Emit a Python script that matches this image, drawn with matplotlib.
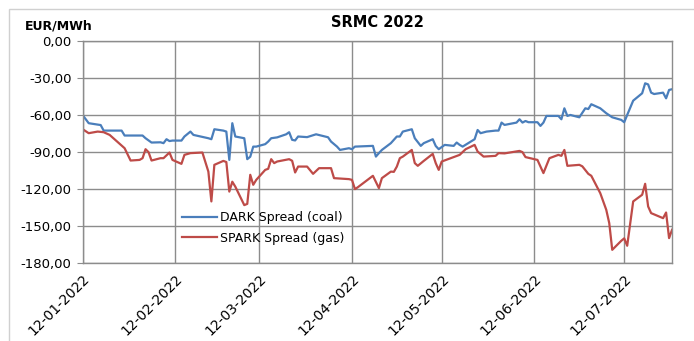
import matplotlib
matplotlib.use('Agg')
import matplotlib.pyplot as plt
import matplotlib.dates as mdates
from matplotlib.patches import Rectangle
import pandas as pd

plt.rcParams['axes.unicode_minus'] = False

dark_dates = ['2022-01-12', '2022-01-14', '2022-01-18', '2022-01-19', '2022-01-25', '2022-01-26',
              '2022-02-01', '2022-02-02', '2022-02-04', '2022-02-07', '2022-02-08', '2022-02-09',
              '2022-02-10', '2022-02-11', '2022-02-14', '2022-02-15', '2022-02-17', '2022-02-18',
              '2022-02-23', '2022-02-24', '2022-02-25', '2022-02-28', '2022-03-01', '2022-03-02',
              '2022-03-03', '2022-03-04', '2022-03-07', '2022-03-08', '2022-03-09', '2022-03-10',
              '2022-03-11', '2022-03-14', '2022-03-15', '2022-03-16', '2022-03-18', '2022-03-21',
              '2022-03-22', '2022-03-23', '2022-03-24', '2022-03-25', '2022-03-28', '2022-03-31',
              '2022-04-04', '2022-04-05', '2022-04-07', '2022-04-08', '2022-04-11', '2022-04-12',
              '2022-04-13', '2022-04-19', '2022-04-20', '2022-04-21', '2022-04-22', '2022-04-25',
              '2022-04-27', '2022-04-28', '2022-04-29', '2022-05-02', '2022-05-03', '2022-05-05',
              '2022-05-06', '2022-05-09', '2022-05-10', '2022-05-11', '2022-05-13', '2022-05-16',
              '2022-05-17', '2022-05-18', '2022-05-19', '2022-05-23', '2022-05-24', '2022-05-25',
              '2022-05-27', '2022-05-30', '2022-05-31', '2022-06-01', '2022-06-02', '2022-06-06',
              '2022-06-07', '2022-06-08', '2022-06-09', '2022-06-10', '2022-06-13', '2022-06-14',
              '2022-06-15', '2022-06-16', '2022-06-20', '2022-06-21', '2022-06-22', '2022-06-23',
              '2022-06-24', '2022-06-27', '2022-06-29', '2022-06-30', '2022-07-01', '2022-07-04',
              '2022-07-06', '2022-07-08', '2022-07-11', '2022-07-12', '2022-07-13', '2022-07-15',
              '2022-07-18', '2022-07-19', '2022-07-20', '2022-07-21', '2022-07-22', '2022-07-25',
              '2022-07-26', '2022-07-27', '2022-07-28']
dark_values = [-60.0, -66.5, -68.0, -72.5, -72.5, -76.5,
               -76.5, -78.7, -82.2, -82.0, -82.7, -79.5,
               -81.0, -80.6, -80.6, -77.3, -73.3, -76.0,
               -78.7, -79.5, -71.4, -72.5, -73.3, -96.3,
               -66.5, -77.3, -78.7, -95.7, -93.7, -85.5,
               -85.5, -83.5, -81.4, -78.7, -78.0, -75.5,
               -73.8, -80.0, -80.5, -77.3, -77.8, -75.5,
               -77.9, -81.4, -85.5, -88.2, -86.8, -87.6,
               -85.5, -84.9, -93.6, -90.8, -88.2, -82.7,
               -77.3, -77.3, -73.3, -71.4, -78.7, -84.9,
               -82.7, -79.5, -85.0, -87.6, -84.1, -84.9,
               -82.2, -84.1, -85.5, -79.5, -72.0, -74.6,
               -73.3, -72.5, -72.5, -66.0, -67.9, -66.0,
               -63.3, -66.0, -64.7, -65.7, -65.7, -68.7,
               -66.0, -60.6, -60.6, -63.3, -54.4, -60.6,
               -59.8, -61.7, -54.4, -55.0, -51.1, -54.4,
               -58.4, -61.7, -63.8, -65.7, -59.8, -48.2,
               -42.2, -34.1, -35.0, -41.7, -42.8, -41.7,
               -46.3, -39.5, -38.9]

spark_dates = ['2022-01-12', '2022-01-14', '2022-01-17', '2022-01-19', '2022-01-21', '2022-01-26',
               '2022-01-28', '2022-01-31', '2022-02-01', '2022-02-02', '2022-02-03', '2022-02-04',
               '2022-02-07', '2022-02-08', '2022-02-10', '2022-02-11', '2022-02-14', '2022-02-15',
               '2022-02-17', '2022-02-21', '2022-02-23', '2022-02-24', '2022-02-25', '2022-02-28',
               '2022-03-01', '2022-03-02', '2022-03-03', '2022-03-04', '2022-03-07', '2022-03-08',
               '2022-03-09', '2022-03-10', '2022-03-11', '2022-03-14', '2022-03-15', '2022-03-16',
               '2022-03-17', '2022-03-18', '2022-03-22', '2022-03-23', '2022-03-24', '2022-03-25',
               '2022-03-28', '2022-03-30', '2022-04-01', '2022-04-05', '2022-04-06', '2022-04-11',
               '2022-04-12', '2022-04-13', '2022-04-14', '2022-04-19', '2022-04-21', '2022-04-22',
               '2022-04-25', '2022-04-26', '2022-04-27', '2022-04-28', '2022-04-29', '2022-05-02',
               '2022-05-03', '2022-05-04', '2022-05-06', '2022-05-09', '2022-05-10', '2022-05-11',
               '2022-05-12', '2022-05-18', '2022-05-20', '2022-05-23', '2022-05-24', '2022-05-26',
               '2022-05-30', '2022-05-31', '2022-06-02', '2022-06-07', '2022-06-08', '2022-06-09',
               '2022-06-13', '2022-06-15', '2022-06-17', '2022-06-20', '2022-06-21', '2022-06-22',
               '2022-06-23', '2022-06-27', '2022-06-28', '2022-06-30', '2022-07-01', '2022-07-04',
               '2022-07-06', '2022-07-07', '2022-07-08', '2022-07-11', '2022-07-12', '2022-07-13',
               '2022-07-15', '2022-07-18', '2022-07-19', '2022-07-20', '2022-07-21', '2022-07-25',
               '2022-07-26', '2022-07-27', '2022-07-28']
spark_values = [-71.4, -74.6, -73.3, -73.8, -76.0, -86.8,
                -96.8, -96.3, -94.9, -87.6, -90.0, -96.8,
                -94.9, -94.9, -90.3, -96.3, -99.5, -92.2,
                -90.8, -90.3, -105.8, -130.0, -100.3, -97.1,
                -98.0, -122.0, -114.0, -118.0, -133.0, -132.0,
                -108.4, -116.5, -112.5, -104.4, -103.5, -95.7,
                -98.9, -97.6, -95.7, -97.0, -106.5, -101.7,
                -101.7, -107.6, -103.0, -103.0, -111.1, -111.9,
                -112.5, -120.0, -118.4, -109.2, -119.2, -111.1,
                -105.8, -106.0, -101.7, -94.9, -93.6, -88.2,
                -98.9, -101.1, -97.1, -91.4, -98.9, -104.4,
                -97.6, -92.2, -87.6, -84.1, -89.5, -93.6,
                -93.0, -90.8, -91.0, -89.0, -90.0, -94.0,
                -96.3, -107.0, -94.9, -92.2, -93.0, -88.2,
                -101.1, -100.3, -101.5, -107.6, -109.2, -123.3,
                -136.8, -147.6, -169.3, -162.0, -160.0, -166.0,
                -130.0, -124.6, -115.7, -134.1, -139.5, -143.6,
                -139.0, -159.8, -153.0]

tick_dates = ['2022-01-12', '2022-02-12', '2022-03-12', '2022-04-12',
              '2022-05-12', '2022-06-12', '2022-07-12']

dark = pd.Series(dark_values, index=pd.to_datetime(dark_dates))
spark = pd.Series(spark_values, index=pd.to_datetime(spark_dates))

fig = plt.figure(figsize=(6.94, 3.41), dpi=100)
ax = fig.add_axes([0.1192, 0.2287, 0.8492, 0.6502])

ax.plot(dark.index, dark.values, color='#4a7ebb', linewidth=1.6, label='DARK Spread (coal)')
ax.plot(spark.index, spark.values, color='#be4b48', linewidth=1.6, label='SPARK Spread (gas)')

ax.set_xlim(pd.Timestamp('2022-01-12'), pd.Timestamp('2022-07-28'))
ax.set_ylim(-180, 0)
ax.set_yticks(range(-180, 1, 30))
ax.yaxis.set_major_formatter(plt.FuncFormatter(lambda v, p: f'{v:.2f}'.replace('.', ',')))
ax.set_xticks(pd.to_datetime(tick_dates))
ax.xaxis.set_major_formatter(mdates.DateFormatter('%d-%m-%Y'))
plt.setp(ax.get_xticklabels(), rotation=45, ha='right', rotation_mode='anchor')

ax.grid(True, color='#8c8c8c', linewidth=1.0)
ax.set_axisbelow(True)
for s in ax.spines.values():
    s.set_color('#8c8c8c')
    s.set_linewidth(1.0)
ax.tick_params(axis='y', length=4, color='#8c8c8c', labelsize=9.5, pad=4)
ax.tick_params(axis='x', length=0, labelsize=10, pad=6)

ax.set_title('SRMC 2022', fontsize=10.5, fontweight='bold', pad=10)
fig.text(0.036, 0.905, 'EUR/MWh', fontsize=9, fontweight='bold', ha='left', va='bottom')

ax.legend(loc='upper left', bbox_to_anchor=(0.157, 0.262), frameon=False, fontsize=9,
          handlelength=2.8, handletextpad=0.3, labelspacing=0.6, borderpad=0)

fig.add_artist(Rectangle((9 / 694, -0.2), 1.0, 1.2 - 9 / 341, transform=fig.transFigure,
                         fill=False, edgecolor='#d0d0d0', linewidth=1.0))

fig.savefig('out.png', dpi=100)
